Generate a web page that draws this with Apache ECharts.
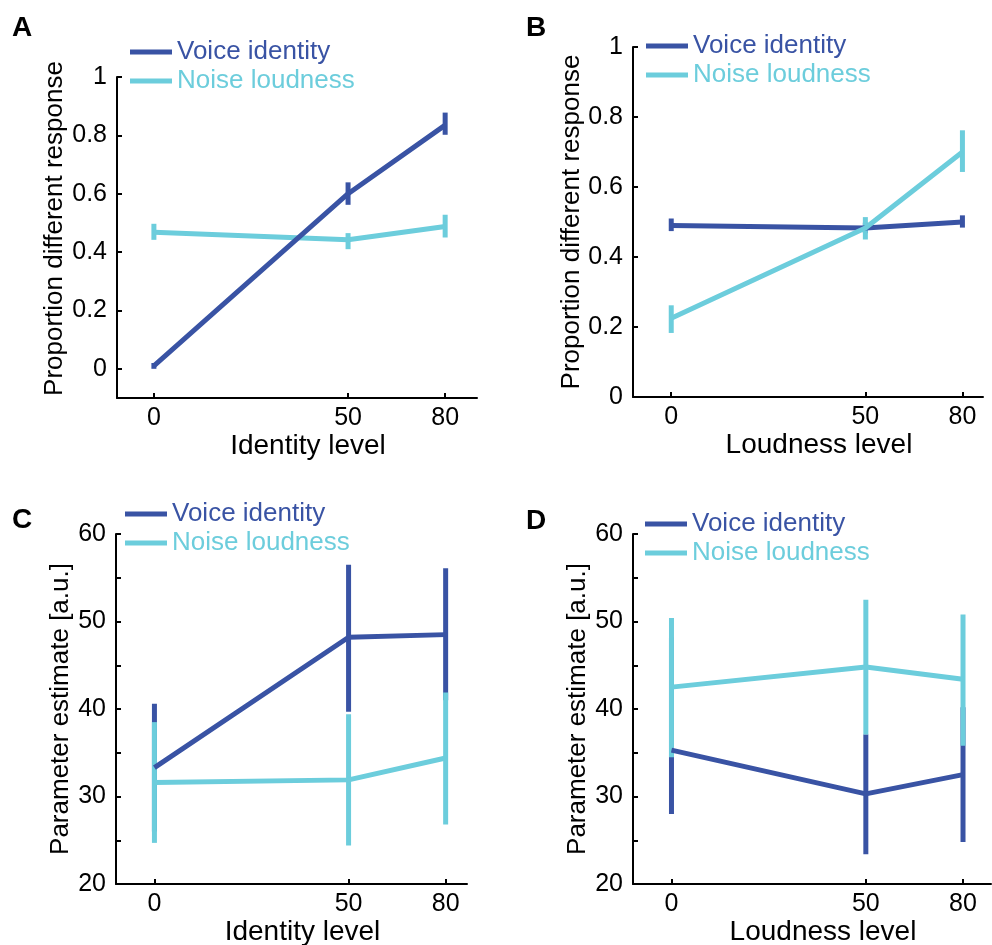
<!DOCTYPE html>
<html>
<head>
<meta charset="utf-8">
<script src="https://cdn.jsdelivr.net/npm/echarts@6/dist/echarts.min.js"></script>
<style>
  html, body { margin: 0; padding: 0; background: #fff; }
  #chart { width: 992px; height: 945px; }
</style>
</head>
<body>
<div id="chart"></div>
<script>
// x positions of the three levels and the labels printed under them
const xLevels = [0, 50, 75];
const xTickLabels = ['0', '50', '80'];

// A: identity level, proportion "different"
const aVoice = [0.01, 0.60, 0.835];
const aVoiceLo = [0.0, 0.562, 0.802];
const aVoiceHi = [0.02, 0.639, 0.878];
const aNoise = [0.468, 0.442, 0.488];
const aNoiseLo = [0.442, 0.410, 0.450];
const aNoiseHi = [0.497, 0.465, 0.528];

// B: loudness level, proportion "different"
const bVoice = [0.49, 0.483, 0.50];
const bVoiceLo = [0.474, 0.468, 0.484];
const bVoiceHi = [0.51, 0.498, 0.519];
const bNoise = [0.225, 0.483, 0.70];
const bNoiseLo = [0.183, 0.450, 0.643];
const bNoiseHi = [0.262, 0.514, 0.762];

// C: identity level, parameter estimate
const cVoice = [33.3, 48.2, 48.5];
const cVoiceLo = [26.0, 39.7, 41.0];
const cVoiceHi = [40.6, 56.5, 56.1];
const cNoise = [31.6, 31.9, 34.4];
const cNoiseLo = [24.7, 24.4, 26.8];
const cNoiseHi = [38.5, 39.4, 41.9];

// D: loudness level, parameter estimate
const dVoice = [35.3, 30.3, 32.5];
const dVoiceLo = [28.0, 23.4, 24.8];
const dVoiceHi = [48.2, 37.1, 40.2];
const dNoise = [42.5, 44.8, 43.4];
const dNoiseLo = [34.5, 37.1, 35.8];
const dNoiseHi = [50.4, 52.5, 50.8];

const propTicks = [0, 0.2, 0.4, 0.6, 0.8, 1];

const BLUE = '#3953a4';
const CYAN = '#6ccddc';
const FONT = '"Liberation Sans", Arial, sans-serif';

const chart = echarts.init(document.getElementById('chart'));

function pts(vals) {
    return xLevels.map((x, i) => [x, vals[i]]);
}
function bars(lo, hi) {
    return xLevels.map((x, i) => [x, lo[i], hi[i]]);
}

function lineSeries(name, idx, vals, color) {
    return {
        name: name,
        type: 'line',
        xAxisIndex: idx,
        yAxisIndex: idx,
        data: pts(vals),
        symbol: 'none',
        lineStyle: { color: color, width: 5 },
        itemStyle: { color: color },
        silent: true
    };
}

function errSeries(idx, lo, hi, color) {
    return {
        type: 'custom',
        xAxisIndex: idx,
        yAxisIndex: idx,
        data: bars(lo, hi),
        encode: { x: 0, y: [1, 2] },
        silent: true,
        renderItem: function (params, api) {
            const p1 = api.coord([api.value(0), api.value(1)]);
            const p2 = api.coord([api.value(0), api.value(2)]);
            return {
                type: 'line',
                shape: { x1: p1[0], y1: p1[1], x2: p2[0], y2: p2[1] },
                style: { stroke: color, lineWidth: 5 }
            };
        }
    };
}

const grids = [
    { left: 117, top: 77, width: 360, height: 321, outerBoundsMode: 'none' },
    { left: 633, top: 47, width: 350, height: 350, outerBoundsMode: 'none' },
    { left: 116, top: 534, width: 351, height: 350, outerBoundsMode: 'none' },
    { left: 633, top: 534, width: 358, height: 350, outerBoundsMode: 'none' }
];
const xRanges = [[-9.5, 83.2], [-9.85, 80.3], [-9.9, 80.5], [-9.9, 82.2]];
const xNames = ['Identity level', 'Loudness level', 'Identity level', 'Loudness level'];
const yNames = ['Proportion different response', 'Proportion different response',
    'Parameter estimate [a.u.]', 'Parameter estimate [a.u.]'];
const yNameGaps = [49, 46, 40, 37];
const yNamePad = [[0, 0, 0, 18], 0, 0, 0];

const xAxes = grids.map((g, i) => ({
    type: 'value',
    gridIndex: i,
    min: xRanges[i][0],
    max: xRanges[i][1],
    name: xNames[i],
    nameLocation: 'middle',
    nameGap: 31,
    nameTextStyle: { fontFamily: FONT, fontSize: 28, color: '#000', padding: [0, 0, 0, 22] },
    axisLine: { onZero: false, lineStyle: { color: '#000', width: 2 } },
    axisTick: { inside: true, length: 5, lineStyle: { color: '#000', width: 2 }, customValues: xLevels },
    axisLabel: {
        customValues: xLevels,
        margin: 8,
        fontFamily: FONT, fontSize: 25, color: '#000',
        formatter: v => xTickLabels[xLevels.indexOf(v)]
    },
    splitLine: { show: false }
}));

const yAxes = grids.map((g, i) => {
    const base = {
        type: 'value',
        gridIndex: i,
        name: yNames[i],
        nameLocation: 'middle',
        nameGap: yNameGaps[i],
        nameTextStyle: { fontFamily: FONT, fontSize: 26, color: '#000', padding: yNamePad[i] },
        axisLine: { onZero: false, lineStyle: { color: '#000', width: 2 } },
        axisTick: { inside: true, length: 5, lineStyle: { color: '#000', width: 2 } },
        axisLabel: { margin: 10, fontFamily: FONT, fontSize: 25, color: '#000' },
        splitLine: { show: false }
    };
    if (i === 0) {
        base.min = -0.1; base.max = 1;
        base.axisTick.customValues = propTicks;
        base.axisLabel.customValues = propTicks;
        base.axisLabel.formatter = v => String(Math.round(v * 10) / 10);
    } else if (i === 1) {
        base.min = 0; base.max = 1; base.interval = 0.2;
        base.axisLabel.formatter = v => String(Math.round(v * 10) / 10);
    } else {
        base.min = 20; base.max = 60; base.interval = 5;
        base.axisLabel.formatter = v => (v % 10 === 0 ? String(v) : '');
    }
    return base;
});

const legendPos = [[130, 39], [646, 33], [125, 501], [645, 511]];
const legends = legendPos.map(p => ({
    orient: 'vertical',
    left: p[0],
    top: p[1],
    padding: 0,
    itemGap: 3,
    itemWidth: 42,
    itemHeight: 5,
    icon: 'rect',
    selectedMode: false,
    textStyle: { fontFamily: FONT, fontSize: 26 },
    data: [
        { name: 'Voice identity', textStyle: { color: BLUE } },
        { name: 'Noise loudness', textStyle: { color: CYAN } }
    ]
}));

const letters = [['A', 12, 14], ['B', 526, 14], ['C', 12, 506], ['D', 526, 507]];
const titles = letters.map(l => ({
    text: l[0], left: l[1], top: l[2], padding: 0,
    textStyle: { fontFamily: FONT, fontSize: 28, fontWeight: 'bold', color: '#000' }
}));

const series = [
    // A: noise drawn first so the blue line sits on top
    lineSeries('Noise loudness', 0, aNoise, CYAN),
    errSeries(0, aNoiseLo, aNoiseHi, CYAN),
    lineSeries('Voice identity', 0, aVoice, BLUE),
    errSeries(0, aVoiceLo, aVoiceHi, BLUE),
    // B
    lineSeries('Voice identity', 1, bVoice, BLUE),
    errSeries(1, bVoiceLo, bVoiceHi, BLUE),
    lineSeries('Noise loudness', 1, bNoise, CYAN),
    errSeries(1, bNoiseLo, bNoiseHi, CYAN),
    // C
    lineSeries('Voice identity', 2, cVoice, BLUE),
    errSeries(2, cVoiceLo, cVoiceHi, BLUE),
    lineSeries('Noise loudness', 2, cNoise, CYAN),
    errSeries(2, cNoiseLo, cNoiseHi, CYAN),
    // D
    lineSeries('Voice identity', 3, dVoice, BLUE),
    errSeries(3, dVoiceLo, dVoiceHi, BLUE),
    lineSeries('Noise loudness', 3, dNoise, CYAN),
    errSeries(3, dNoiseLo, dNoiseHi, CYAN)
];

chart.setOption({
    animation: false,
    backgroundColor: '#fff',
    title: titles,
    legend: legends,
    grid: grids,
    xAxis: xAxes,
    yAxis: yAxes,
    series: series
});
</script>
</body>
</html>
